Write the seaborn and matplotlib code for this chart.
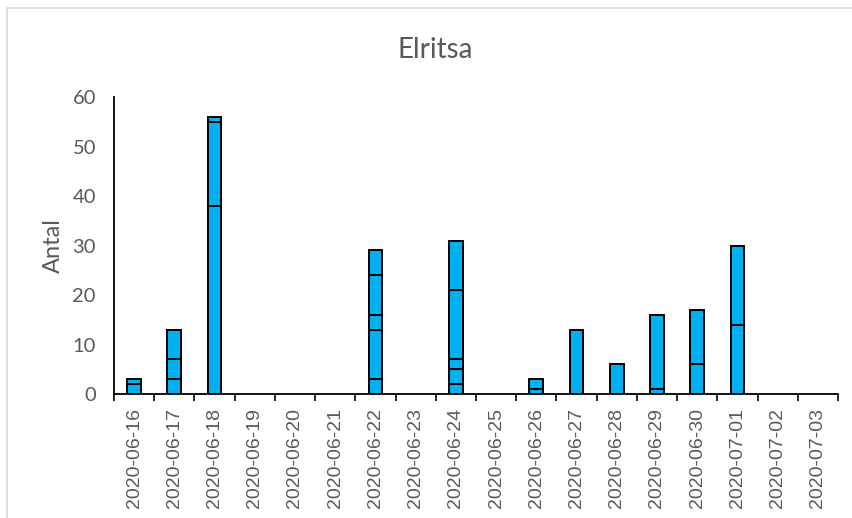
import matplotlib
matplotlib.use("Agg")
import matplotlib.pyplot as plt
from matplotlib.patches import Rectangle
import numpy as np
import pandas as pd
import seaborn as sns

# Daily catch of Elritsa, one list per stacked segment (bottom to top)
dates = ["2020-06-16", "2020-06-17", "2020-06-18", "2020-06-19", "2020-06-20",
         "2020-06-21", "2020-06-22", "2020-06-23", "2020-06-24", "2020-06-25",
         "2020-06-26", "2020-06-27", "2020-06-28", "2020-06-29", "2020-06-30",
         "2020-07-01", "2020-07-02", "2020-07-03"]
seg1 = [2, 3, 38, 0, 0, 0, 3, 0, 2, 0, 1, 13, 6, 1, 6, 14, 0, 0]
seg2 = [1, 4, 17, 0, 0, 0, 10, 0, 3, 0, 2, 0, 0, 15, 11, 16, 0, 0]
seg3 = [0, 6, 1, 0, 0, 0, 3, 0, 2, 0, 0, 0, 0, 0, 0, 0, 0, 0]
seg4 = [0, 0, 0, 0, 0, 0, 8, 0, 14, 0, 0, 0, 0, 0, 0, 0, 0, 0]
seg5 = [0, 0, 0, 0, 0, 0, 5, 0, 10, 0, 0, 0, 0, 0, 0, 0, 0, 0]

TEXT = "#595959"
BAR = "#00B0F0"

sns.set_theme(style="white")
plt.rcParams["font.family"] = ["Lato", "DejaVu Sans"]

segments = [seg1, seg2, seg3, seg4, seg5]
cum = np.cumsum(np.array(segments, dtype=float), axis=0)

fig = plt.figure(figsize=(8.53, 5.18), dpi=100)
ax = fig.add_axes([114 / 853, 1 - 394 / 518, (838 - 114) / 853, (394 - 97) / 518])

# Draw cumulative layers from the top down so each segment boundary shows
for level in range(len(segments) - 1, -1, -1):
    heights = cum[level].copy()
    seg_vals = np.array(segments[level], dtype=float)
    heights[seg_vals == 0] = np.nan
    df = pd.DataFrame({"date": dates, "antal": heights})
    sns.barplot(data=df, x="date", y="antal", order=dates, color=BAR,
                saturation=1, width=0.34, edgecolor="black", linewidth=1.4,
                ax=ax)

ax.set_xlim(-0.5, len(dates) - 0.5)
ax.set_ylim(0, 60)
ax.set_yticks(range(0, 61, 10))
ax.set_xticks(range(len(dates)))
ax.set_xticklabels(dates, rotation=90, family=["Liberation Sans", "DejaVu Sans"],
                   fontsize=14, color=TEXT)
ax.set_xticks(np.arange(-0.5, len(dates), 1.0), minor=True)
ax.tick_params(axis="x", which="major", length=0, pad=10)
ax.tick_params(axis="x", which="minor", length=5, width=1.2, color="black",
               direction="out", bottom=True)
ax.tick_params(axis="y", length=0, pad=13, labelsize=14.5, labelcolor=TEXT)

for side in ("top", "right"):
    ax.spines[side].set_visible(False)
for side in ("left", "bottom"):
    ax.spines[side].set_color("black")
    ax.spines[side].set_linewidth(1.3)

ax.set_xlabel("")
ax.set_ylabel("Antal", fontsize=17, color=TEXT, labelpad=6)
fig.text(0.51, 1 - 50 / 518, "Elritsa", ha="center", va="center",
         fontsize=20, color=TEXT)

# Chart area frame
fig.patches.append(Rectangle((7 / 853, -0.1), 1.2, 1.1 - 8 / 518,
                             transform=fig.transFigure, fill=False,
                             edgecolor="#D9D9D9", linewidth=1.2))

fig.savefig("out.png", dpi=100, facecolor="white")
